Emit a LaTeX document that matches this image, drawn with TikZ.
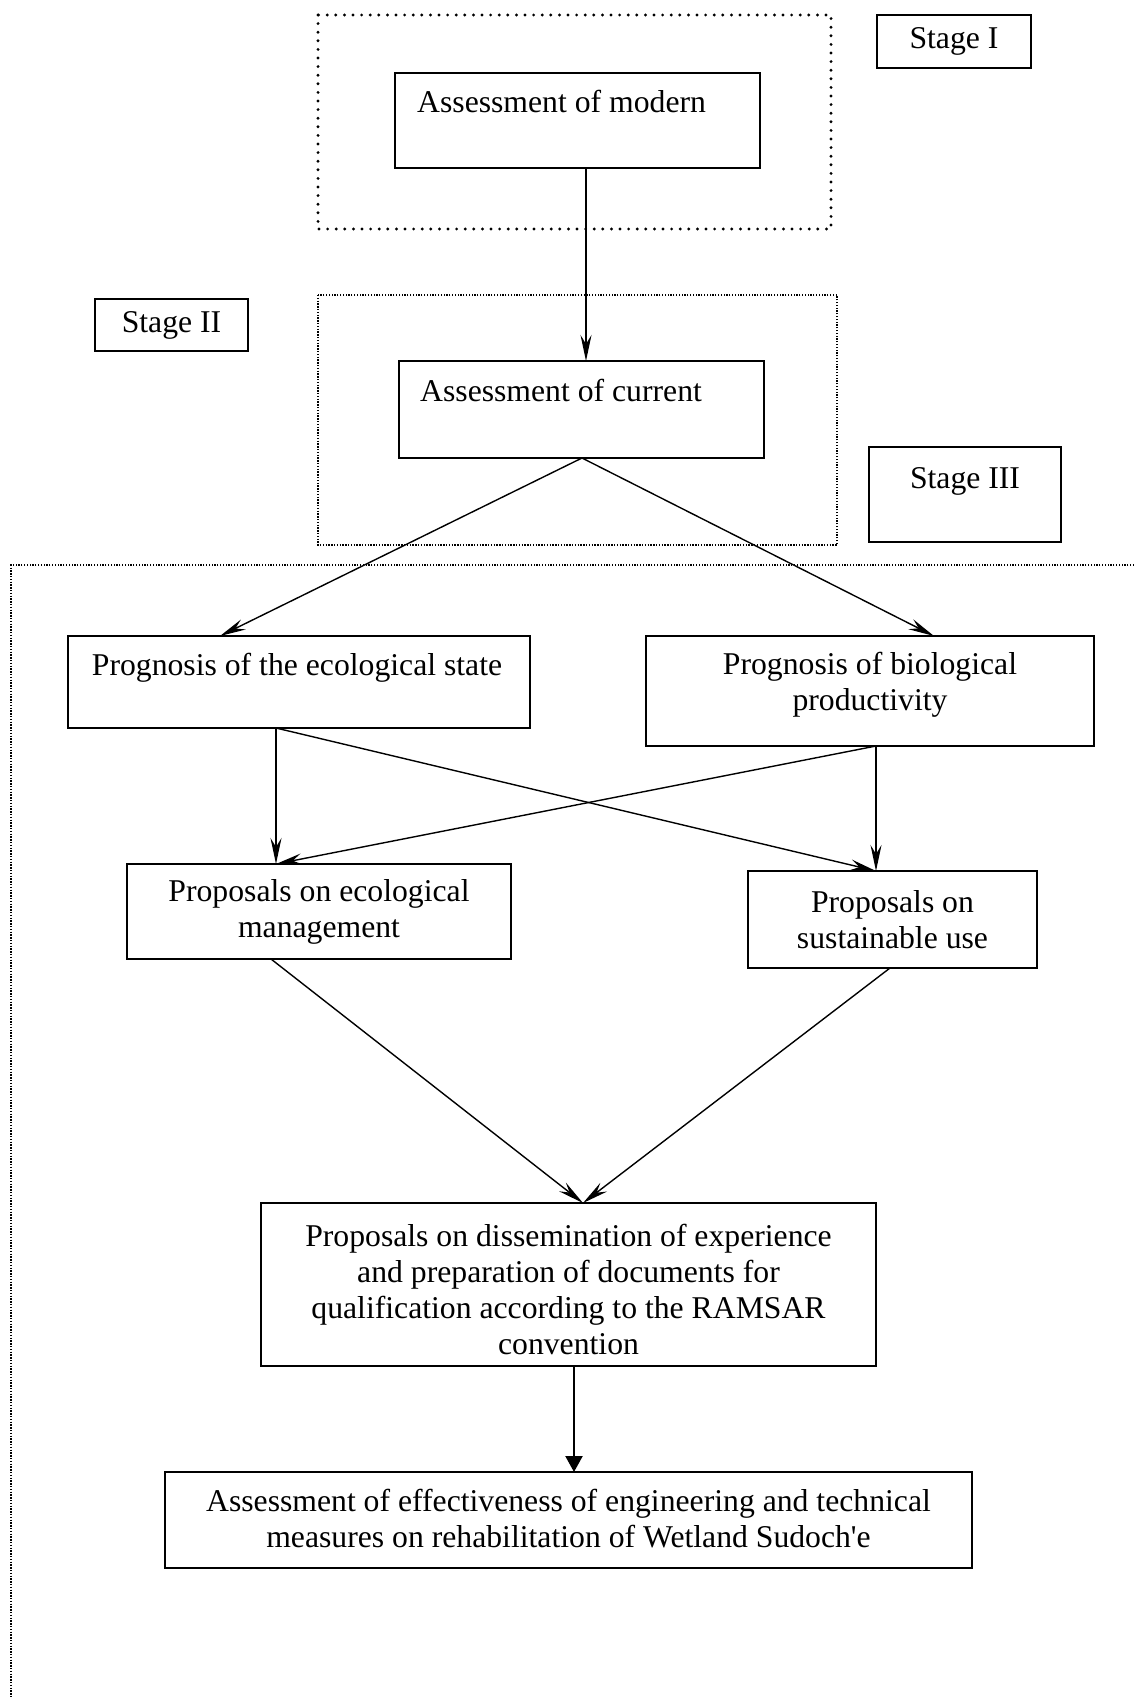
\documentclass[tikz,border=0pt]{standalone}
\usepackage{fontspec}
\setmainfont{Liberation Serif}
\usetikzlibrary{arrows.meta}
\begin{document}
\begin{tikzpicture}[x=1pt,y=-1pt,
  box/.style={draw, line width=1.8pt, inner sep=0pt, outer sep=0pt, rectangle},
  txt/.style={inner sep=0pt, font=\fontsize{31.7}{36}\selectfont, align=center},
  conn/.style={line width=1.4pt, -{Stealth[length=26pt, width=11pt, inset=9pt]}},
  thickconn/.style={line width=2.2pt, -{Triangle[length=16pt, width=17pt]}},
  bigdots/.style={line width=3.2pt, line cap=round, dash pattern=on 0pt off 8.6pt},
  smalldots/.style={line width=1.1pt, dash pattern=on 1.3pt off 1.5pt}
]
\useasboundingbox (0,0) rectangle (1134,1699);
\fill[white] (0,0) rectangle (1134,1699);

% stage frames
\draw[bigdots] (318,15) rectangle (831,229);
\draw[smalldots] (318,295) rectangle (837,545);
\draw[smalldots] (1134,565) -- (11,565) -- (11,1699);

% stage labels
\node[box, minimum width=154pt, minimum height=53pt] (st1) at (954,41.5) {};
\node[txt] (st1t) at (st1.center) {Stage I};
\node[box, minimum width=153pt, minimum height=52pt] (st2) at (171.5,325) {};
\node[txt] (st2t) at (st2.center) {Stage II};
\node[box, minimum width=192pt, minimum height=95pt] (st3) at (965,494.5) {};
\node[txt, anchor=base] (st3t) at (965,488) {Stage III};

% boxes
\node[box, minimum width=365pt, minimum height=95pt] (modern) at (577.5,120.5) {};
\node[txt, anchor=base west] (modernt) at (417,113) {Assessment of modern};

\node[box, minimum width=365pt, minimum height=97pt] (current) at (581.5,409.5) {};
\node[txt, anchor=base west] (currentt) at (420,401) {Assessment of current};

\node[box, minimum width=462pt, minimum height=92pt] (eco) at (299,682) {};
\node[txt, anchor=base] (ecot) at (297,675) {Prognosis of the ecological state};

\node[box, minimum width=448pt, minimum height=110pt] (bio) at (870,691) {};
\node[txt] (biot) at (870,685) {Prognosis of biological\\productivity};

\node[box, minimum width=384pt, minimum height=95pt] (mgmt) at (319,911.5) {};
\node[txt] (mgmtt) at (mgmt.center) {Proposals on ecological\\management};

\node[box, minimum width=289pt, minimum height=97pt] (sust) at (892.5,919.5) {};
\node[txt] (sustt) at (sust.center) {Proposals on\\sustainable use};

\node[box, minimum width=615pt, minimum height=163pt] (dis) at (568.5,1284.5) {};
\node[txt] (dist) at (568.5,1289) {Proposals on dissemination of experience\\and preparation of documents for\\qualification according to the RAMSAR\\convention};

\node[box, minimum width=807pt, minimum height=96pt] (fin) at (568.5,1520) {};
\node[txt] (fint) at (568.5,1519) {Assessment of effectiveness of engineering and technical\\measures on rehabilitation of Wetland Sudoch\textquotesingle e};

% connectors
\draw[conn] ([xshift=8.5pt]modern.south) -- ([xshift=4.5pt]current.north);
\draw[conn] ([xshift=0.5pt]current.south) -- ([xshift=-79pt]eco.north);
\draw[conn] ([xshift=0.5pt]current.south) -- ([xshift=64pt]bio.north);
\draw[conn] ([xshift=-23pt]eco.south) -- ([xshift=-43pt]mgmt.north);
\draw[conn] ([xshift=-23pt]eco.south) -- ([xshift=-16.5pt]sust.north);
\draw[conn] ([xshift=6pt]bio.south) -- ([xshift=-43pt]mgmt.north);
\draw[conn] ([xshift=6pt]bio.south) -- ([xshift=-16.5pt]sust.north);
\draw[conn] ([xshift=-48pt]mgmt.south) -- ([xshift=14.5pt]dis.north);
\draw[conn] ([xshift=-2.5pt]sust.south) -- ([xshift=14.5pt]dis.north);
\draw[thickconn] ([xshift=5.5pt]dis.south) -- ([xshift=5.5pt]fin.north);
\end{tikzpicture}
\end{document}
